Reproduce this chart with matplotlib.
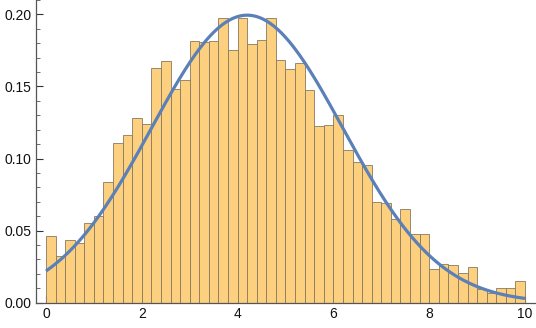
import numpy as np
import matplotlib
matplotlib.use("Agg")
import matplotlib.pyplot as plt
from matplotlib.ticker import MultipleLocator

# Histogram: bins of width 0.2 from 0 to 10 (PDF-normalised heights)
bin_edges_start = 0.0
bin_width = 0.2
heights = [
    0.0463, 0.0324, 0.0433, 0.0412, 0.0551, 0.0600, 0.0840, 0.1107, 0.1165, 0.1278,
    0.1239, 0.1628, 0.1674, 0.1482, 0.1542, 0.1819, 0.1808, 0.1815, 0.1972, 0.1750,
    0.1972, 0.1794, 0.1824, 0.1972, 0.1683, 0.1620, 0.1662, 0.1477, 0.1227, 0.1232,
    0.1301, 0.1056, 0.0979, 0.0958, 0.0701, 0.0690, 0.0581, 0.0653, 0.0477, 0.0477,
    0.0232, 0.0271, 0.0262, 0.0204, 0.0248, 0.0093, 0.0065, 0.0102, 0.0102, 0.0151,
]

# Fitted normal distribution
mu = 4.2
sigma = 2.0
curve_range = (0.0, 10.0)

x_ticks = [0, 2, 4, 6, 8, 10]
y_ticks = [0.00, 0.05, 0.10, 0.15, 0.20]
y_tick_labels = ["0.00", "0.05", "0.10", "0.15", "0.20"]

plt.rcParams['font.family'] = ['Liberation Sans', 'DejaVu Sans']

fig = plt.figure(figsize=(5.36, 3.28), dpi=100)
ax = fig.add_axes([36 / 536, 25.3 / 328, 1 - 36 / 536, 1 - 25.3 / 328])

lefts = bin_edges_start + bin_width * np.arange(len(heights))
ax.bar(lefts, heights, width=bin_width, align="edge",
       facecolor="#FDD07F", edgecolor="#877A60", linewidth=0.6, zorder=2)

xs = np.linspace(curve_range[0], curve_range[1], 400)
pdf = np.exp(-0.5 * ((xs - mu) / sigma) ** 2) / (sigma * np.sqrt(2 * np.pi))
ax.plot(xs, pdf, color="#5B80B8", linewidth=2.3, zorder=3, solid_capstyle="butt")

ax.set_xlim(-0.209, 10.23)
ax.set_ylim(0, 0.21)

for s in ["top", "right"]:
    ax.spines[s].set_visible(False)
for s in ["left", "bottom"]:
    ax.spines[s].set_color("#555555")
    ax.spines[s].set_linewidth(0.9)
    ax.spines[s].set_zorder(4)

ax.set_xticks(x_ticks)
ax.set_xticklabels([str(t) for t in x_ticks])
ax.xaxis.set_minor_locator(MultipleLocator(0.5))
ax.set_yticks(y_ticks)
ax.set_yticklabels(y_tick_labels)
ax.yaxis.set_minor_locator(MultipleLocator(0.01))

ax.tick_params(which="major", direction="in", length=5, width=0.8, color="#333333",
               labelsize=10, labelcolor="#111111", pad=3)
ax.tick_params(which="minor", direction="in", length=3, width=0.6, color="#555555")

fig.savefig("out.png", dpi=100)
